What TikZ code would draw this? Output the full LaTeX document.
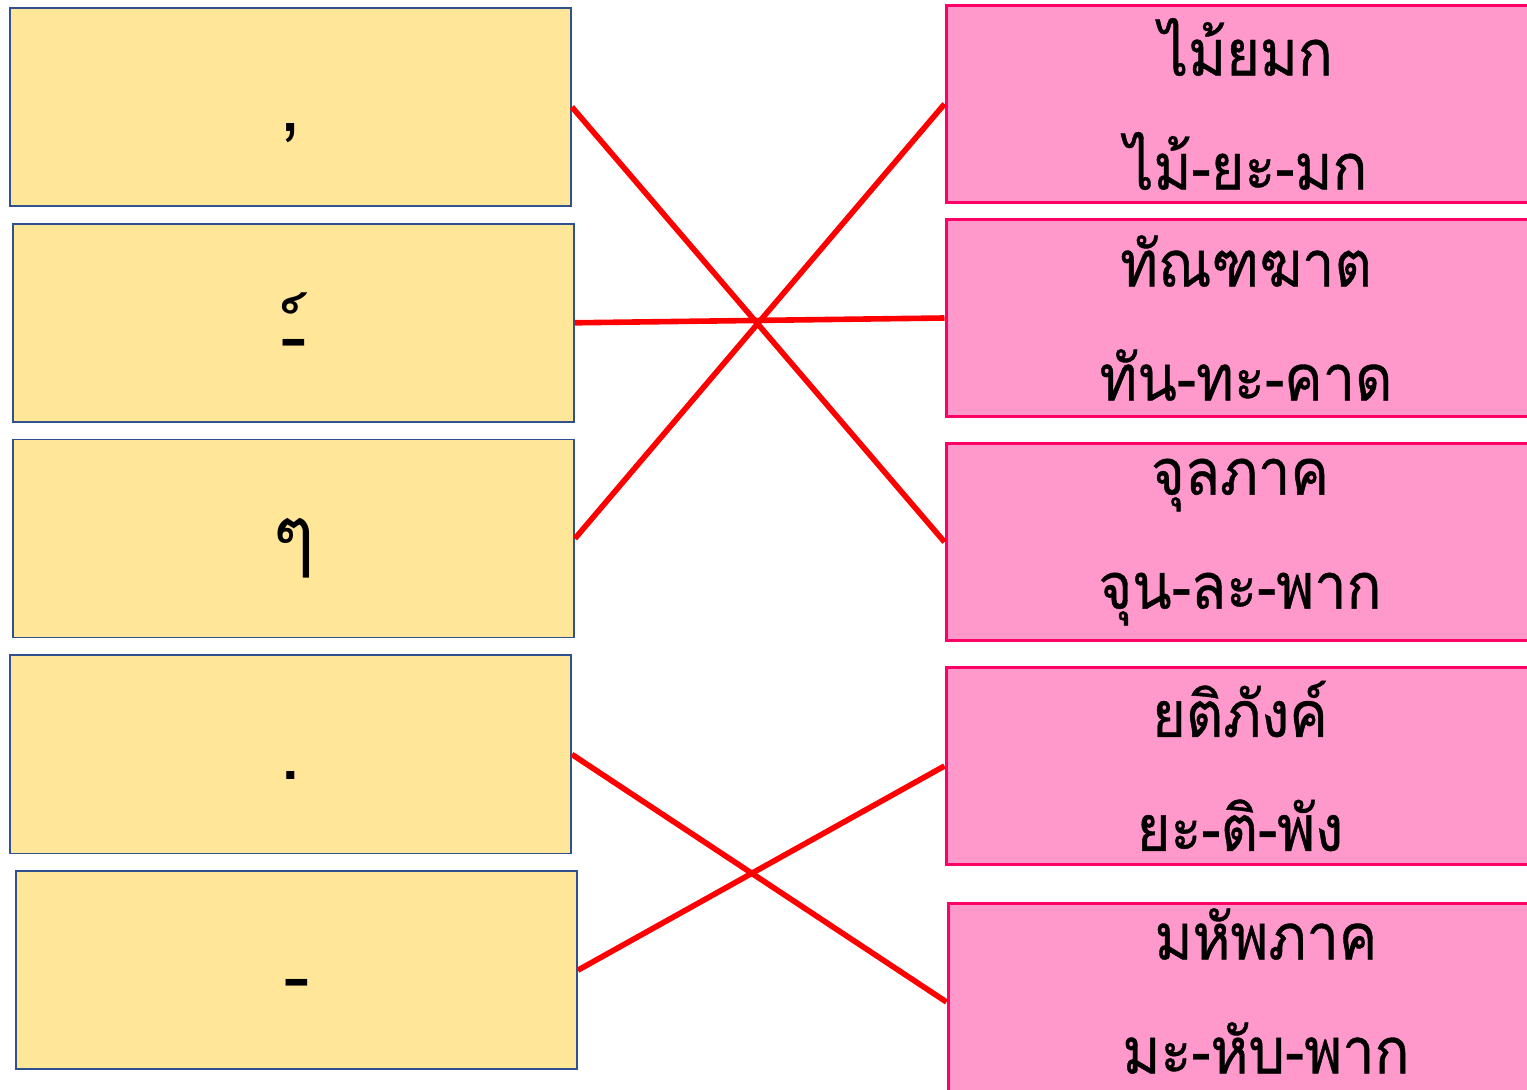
\documentclass[tikz,border=0pt]{standalone}
\usepackage{fontspec}
\newfontfamily\thaifont[Script=Thai]{Loma}
\newfontfamily\thainarrow[Script=Thai,FakeStretch=0.9,FakeBold=0.6]{Loma}
\usetikzlibrary{
  positioning,
}
\definecolor{signfill}{HTML}{FFE699}
\definecolor{signline}{HTML}{2F528F}
\definecolor{namefill}{HTML}{FF99CC}
\definecolor{nameline}{HTML}{FF0066}

\begin{document}
\begin{tikzpicture}[
      x=0.5pt, y=-0.5pt,
      node distance = 8pt,
      signbox/.style={draw=signline,
        fill=signfill,
        line width=0.9pt,
        minimum width=280.5pt,
        minimum height=99pt,
        inner sep=0pt,
        font=\thaifont\fontsize{40}{48}\selectfont,
        text height=25pt, % keep the baseline low like the slide
        text depth=0pt,
      },
      namebox/.style={draw=nameline,
        fill=namefill,
        line width=1.5pt,
        minimum width=300pt,
        minimum height=98.5pt,
        inner sep=0pt,
      },
      nametext/.style={
        align=center,
        inner sep=0pt,
        font=\thainarrow\fontsize{32}{57}\selectfont,
      },
      matchline/.style={red, line width=2.8pt},
      ]
      \useasboundingbox (0,0) rectangle (1527,1090);

      % signs on the left
      \node[signbox] (comma) at (290.5,107) {,};
      \node[signbox, below=of comma, xshift=1.5pt] (thanthakhat) {\raisebox{-8pt}{-}\raisebox{-15pt}{์}};
      \node[signbox, below=of thanthakhat] (yamok) {ๆ};
      \node[signbox, below=of yamok, xshift=-1.5pt] (dot) {.};
      \node[signbox, below=of dot, xshift=3pt] (dash) {\raisebox{-4pt}{-}};

      % names on the right
      \node[namebox, label={[nametext]center:ไม้ยมก\\ไม้-ยะ-มก}] (maiyamok) at (1246,104) {};
      \node[namebox, below=7pt of maiyamok, label={[nametext]center:ทัณฑฆาต\\ทัน-ทะ-คาด}] (thanthakhatname) {};
      \node[namebox, below=12pt of thanthakhatname, label={[nametext, xshift=-3pt]center:จุลภาค\\จุน-ละ-พาก}] (chunlaphak) {};
      \node[namebox, below=12pt of chunlaphak, label={[nametext, xshift=-3pt]center:ยติภังค์\\ยะ-ติ-พัง}] (yatiphang) {};
      \node[namebox, below=18pt of yatiphang, xshift=1pt, label={[nametext, xshift=9pt, yshift=5.5pt]center:มหัพภาค\\มะ-หับ-พาก}] (mahapphak) {};

      \path[matchline]
      (comma.east) edge (chunlaphak.west)
      (thanthakhat.east) edge (thanthakhatname.west)
      (yamok.east) edge (maiyamok.west)
      (dot.east) edge (mahapphak.west)
      (dash.east) edge (yatiphang.west)
      ;
    \end{tikzpicture}
\end{document}
